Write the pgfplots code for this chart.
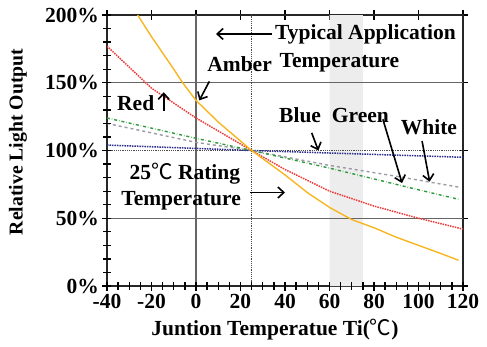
\documentclass[border=0pt]{standalone}
\usepackage{fontspec}
\setmainfont{Liberation Serif}
\newfontfamily\cjk{Noto Sans CJK SC}
\usepackage{pgfplots}
\pgfplotsset{compat=1.18}
\usetikzlibrary{arrows.meta}
\definecolor{amber}{HTML}{F7B521}
\definecolor{redc}{HTML}{EE3B3B}
\definecolor{greenc}{HTML}{2E9A3A}
\definecolor{whitec}{HTML}{9A9AA4}
\definecolor{bluec}{HTML}{2A2D8C}
\newcommand{\degC}{{\cjk\mdseries ℃}}
\tikzset{annarrow/.style={-{Straight Barb[length=6pt,width=11pt,line width=1.6pt]}, line width=1.6pt, black}}
\begin{document}
\begin{tikzpicture}[font=\fontsize{21.5}{24}\selectfont\bfseries]
\useasboundingbox (-107pt,-60pt) rectangle (380pt,286pt);
\begin{axis}[
  at={(0,0)}, anchor=south west,
  width=356pt, height=271pt, scale only axis,
  xmin=-40, xmax=120, ymin=0, ymax=200,
  xtick={-40,-20,0,20,40,60,80,100,120},
  xticklabels={-40,-20,0,20,40,60,80,100,120},
  ytick={0,50,100,150,200},
  yticklabels={0\%,50\%,100\%,150\%,200\%},
  tick align=center,
  major tick length=9pt,
  every major tick/.append style={draw=black, line width=1.4pt},
  axis line style={black!85, line width=1.8pt},
  every tick label/.append style={font=\fontsize{21.5}{24}\selectfont\bfseries},
  clip=true,
]
\addplot[fill=gray!14, draw=none] coordinates {(60,0)(60,200)(75,200)(75,0)} \closedcycle;
\addplot[black!60, line width=1.3pt] coordinates {(-40,50)(120,50)};
\addplot[black!60, line width=1.3pt] coordinates {(-40,150)(120,150)};
\addplot[black!60, line width=1.3pt] coordinates {(0,0)(0,200)};
\addplot[black!70, densely dotted, line width=1.2pt] coordinates {(25,0)(25,200)};
% black dotted 100%
\addplot[black!70, densely dotted, line width=1.2pt] coordinates {(-40,100)(120,100)};
% Blue
\addplot[bluec, densely dotted, line width=1.5pt] coordinates {(-40,104)(25,100)(120,95)};
% White
\addplot[whitec, dashed, line width=1.4pt] coordinates {(-40,120)(0,106)(25,100)(60,89)(90,81)(118,73)};
% Green
\addplot[greenc, dash dot, line width=1.4pt] coordinates {(-40,124)(0,109)(25,100)(60,87)(80,79)(100,71)(118,64)};
% Red
\addplot[redc, densely dotted, line width=1.5pt] coordinates {(-40,177)(-20,146)(0,124)(25,100)(40,86)(60,70)(80,59)(100,50)(120,42)};
% Amber
\addplot[amber, line width=1.4pt] coordinates {(-27,202)(-20,184)(-10,160)(-6,150)(0,137)(10,121)(20,107)(25,100)(30,94)(40,82)(50,69)(60,58)(70,49)(80,43)(90,36)(100,30)(110,24)(118,19)};
% tick marks along the axes
\addplot[only marks, mark=|, mark size=4pt, mark options={black, line width=1.3pt}] coordinates {
(-40,0)(-35,0)(-30,0)(-25,0)(-20,0)(-15,0)(-10,0)(-5,0)(0,0)(5,0)(10,0)(15,0)(20,0)(25,0)(30,0)(35,0)(40,0)(45,0)(50,0)(55,0)(60,0)(65,0)(70,0)(75,0)(80,0)(85,0)(90,0)(95,0)(100,0)(105,0)(110,0)(115,0)(120,0)};
\addplot[only marks, mark=-, mark size=4pt, mark options={black, line width=1.3pt}] coordinates {
(-40,0)(-40,10)(-40,20)(-40,30)(-40,40)(-40,50)(-40,60)(-40,70)(-40,80)(-40,90)(-40,100)(-40,110)(-40,120)(-40,130)(-40,140)(-40,150)(-40,160)(-40,170)(-40,180)(-40,190)(-40,200)};

% annotations
\draw[annarrow] (axis cs:34,186) -- (axis cs:9,186);
\node[anchor=west, inner sep=0pt] at (axis cs:35.5,186) {Typical Application};
\node[anchor=west, inner sep=0pt] at (axis cs:37.5,165) {Temperature};
\node[anchor=west, inner sep=0pt] at (axis cs:5,164) {Amber};
\draw[annarrow] (axis cs:6,151) -- (axis cs:1.5,137);
\node[anchor=west, inner sep=0pt] at (axis cs:-35.5,135) {Red};
\draw[annarrow] (axis cs:-14.5,129) -- (axis cs:-14.5,143);
\node[anchor=west, inner sep=0pt] at (axis cs:37.3,126) {Blue};
\draw[annarrow] (axis cs:52,113) -- (axis cs:55,100);
\node[anchor=west, inner sep=0pt] at (axis cs:61,126) {Green};
\draw[annarrow] (axis cs:84,123) -- (axis cs:92.6,76);
\node[anchor=west, inner sep=0pt] at (axis cs:92,117) {White};
\draw[annarrow] (axis cs:101.6,107) -- (axis cs:105,77);
\node[inner sep=0pt] at (axis cs:-5,83) {25\degC{} Rating};
\node[inner sep=0pt] at (axis cs:-6.7,63) {Temperature};
\draw[annarrow] (axis cs:24.3,69) -- (axis cs:40,69);
\end{axis}
\node[rotate=90, font=\fontsize{19.7}{22}\selectfont\bfseries] at (-89pt,144pt) {Relative Light Output};
\node at (168pt,-44pt) {Juntion Temperatue Ti(\degC)};
\end{tikzpicture}
\end{document}
